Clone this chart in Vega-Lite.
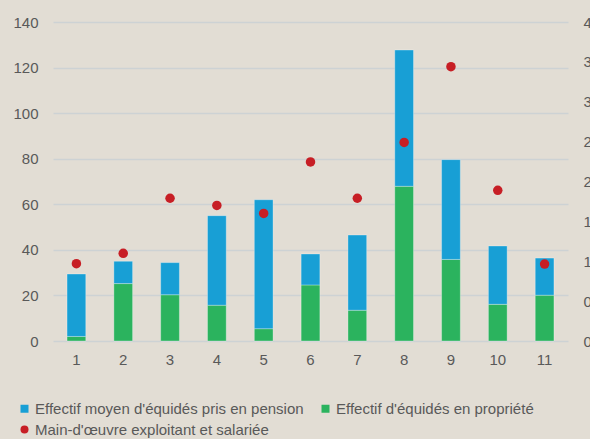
{
  "$schema": "https://vega.github.io/schema/vega-lite/v6.json",
  "width": 515,
  "height": 319,
  "autosize": {"type": "none"},
  "padding": {"left": 53, "top": 22, "right": 22, "bottom": 98},
  "background": "#E2DDD4",
  "config": {
    "view": {"stroke": null},
    "font": "Liberation Sans",
    "axis": {
      "labelFont": "Liberation Sans",
      "labelFontSize": 15,
      "labelColor": "#595959",
      "ticks": false,
      "domain": false,
      "title": null,
      "gridColor": "#cdd2d4",
      "gridWidth": 1.5
    }
  },
  "datasets": {
    "effectifs": [
      {"groupe": 1, "serie": "Effectif d'équidés en propriété", "valeur": 2.0},
      {"groupe": 1, "serie": "Effectif moyen d'équidés pris en pension", "valeur": 27.4},
      {"groupe": 2, "serie": "Effectif d'équidés en propriété", "valeur": 25.2},
      {"groupe": 2, "serie": "Effectif moyen d'équidés pris en pension", "valeur": 9.8},
      {"groupe": 3, "serie": "Effectif d'équidés en propriété", "valeur": 20.3},
      {"groupe": 3, "serie": "Effectif moyen d'équidés pris en pension", "valeur": 14.1},
      {"groupe": 4, "serie": "Effectif d'équidés en propriété", "valeur": 15.7},
      {"groupe": 4, "serie": "Effectif moyen d'équidés pris en pension", "valeur": 39.3},
      {"groupe": 5, "serie": "Effectif d'équidés en propriété", "valeur": 5.4},
      {"groupe": 5, "serie": "Effectif moyen d'équidés pris en pension", "valeur": 56.6},
      {"groupe": 6, "serie": "Effectif d'équidés en propriété", "valeur": 24.6},
      {"groupe": 6, "serie": "Effectif moyen d'équidés pris en pension", "valeur": 13.6},
      {"groupe": 7, "serie": "Effectif d'équidés en propriété", "valeur": 13.5},
      {"groupe": 7, "serie": "Effectif moyen d'équidés pris en pension", "valeur": 33.0},
      {"groupe": 8, "serie": "Effectif d'équidés en propriété", "valeur": 67.9},
      {"groupe": 8, "serie": "Effectif moyen d'équidés pris en pension", "valeur": 59.8},
      {"groupe": 9, "serie": "Effectif d'équidés en propriété", "valeur": 35.8},
      {"groupe": 9, "serie": "Effectif moyen d'équidés pris en pension", "valeur": 43.8},
      {"groupe": 10, "serie": "Effectif d'équidés en propriété", "valeur": 16.1},
      {"groupe": 10, "serie": "Effectif moyen d'équidés pris en pension", "valeur": 25.6},
      {"groupe": 11, "serie": "Effectif d'équidés en propriété", "valeur": 20.1},
      {"groupe": 11, "serie": "Effectif moyen d'équidés pris en pension", "valeur": 16.3}
    ],
    "main": [
      {"groupe": 1, "serie": "Main-d'œuvre exploitant et salariée", "valeur": 0.97},
      {"groupe": 2, "serie": "Main-d'œuvre exploitant et salariée", "valeur": 1.1},
      {"groupe": 3, "serie": "Main-d'œuvre exploitant et salariée", "valeur": 1.79},
      {"groupe": 4, "serie": "Main-d'œuvre exploitant et salariée", "valeur": 1.7},
      {"groupe": 5, "serie": "Main-d'œuvre exploitant et salariée", "valeur": 1.6},
      {"groupe": 6, "serie": "Main-d'œuvre exploitant et salariée", "valeur": 2.245},
      {"groupe": 7, "serie": "Main-d'œuvre exploitant et salariée", "valeur": 1.79},
      {"groupe": 8, "serie": "Main-d'œuvre exploitant et salariée", "valeur": 2.49},
      {"groupe": 9, "serie": "Main-d'œuvre exploitant et salariée", "valeur": 3.44},
      {"groupe": 10, "serie": "Main-d'œuvre exploitant et salariée", "valeur": 1.89},
      {"groupe": 11, "serie": "Main-d'œuvre exploitant et salariée", "valeur": 0.965}
    ]
  },
  "layer": [
    {
      "data": {"name": "effectifs"},
      "mark": {"type": "bar", "stroke": "#ffffff", "strokeOpacity": 0.3, "strokeWidth": 1},
      "encoding": {
        "x": {
          "field": "groupe",
          "type": "ordinal",
          "scale": {"paddingInner": 0.6, "paddingOuter": 0.3},
          "axis": {"labelAngle": 0, "labelPadding": 11, "grid": false}
        },
        "y": {
          "field": "valeur",
          "type": "quantitative",
          "stack": "zero",
          "scale": {"domain": [0, 140], "nice": false},
          "axis": {"values": [0, 20, 40, 60, 80, 100, 120, 140], "grid": true, "labelPadding": 15}
        },
        "color": {
          "field": "serie",
          "type": "nominal",
          "scale": {
            "domain": ["Effectif moyen d'équidés pris en pension", "Effectif d'équidés en propriété", "Main-d'œuvre exploitant et salariée"],
            "range": ["#189fd5", "#2bb35e", "#c71e25"]
          },
          "legend": {
            "title": null,
            "orient": "none",
            "direction": "horizontal",
            "legendX": -36,
            "legendY": 379,
            "columns": 2,
            "labelFontSize": 15,
            "labelColor": "#595959",
            "labelLimit": 400,
            "symbolSize": 64,
            "symbolStrokeWidth": 0,
            "labelOffset": 3,
            "columnPadding": 14,
            "rowPadding": 5
          }
        },
        "order": {"field": "serie", "sort": "ascending"}
      }
    },
    {
      "data": {"name": "main"},
      "mark": {"type": "point", "filled": true, "opacity": 1, "size": 90},
      "encoding": {
        "x": {"field": "groupe", "type": "ordinal"},
        "y": {
          "field": "valeur",
          "type": "quantitative",
          "scale": {"domain": [0, 4], "nice": false},
          "axis": {
            "orient": "right",
            "values": [0, 0.5, 1, 1.5, 2, 2.5, 3, 3.5, 4],
            "grid": false,
            "labelPadding": 15,
            "labelExpr": "replace(format(datum.value, '.1f'), '.', ',')"
          }
        },
        "color": {"field": "serie", "type": "nominal"},
        "shape": {
          "field": "serie",
          "type": "nominal",
          "scale": {
            "domain": ["Effectif moyen d'équidés pris en pension", "Effectif d'équidés en propriété", "Main-d'œuvre exploitant et salariée"],
            "range": ["square", "square", "circle"]
          },
          "legend": {
            "title": null,
            "orient": "none",
            "direction": "horizontal",
            "legendX": -36,
            "legendY": 379,
            "columns": 2,
            "labelFontSize": 15,
            "labelColor": "#595959",
            "labelLimit": 400,
            "symbolSize": 64,
            "symbolStrokeWidth": 0,
            "labelOffset": 3,
            "columnPadding": 14,
            "rowPadding": 5
          }
        }
      }
    }
  ],
  "resolve": {"scale": {"y": "independent"}}
}
